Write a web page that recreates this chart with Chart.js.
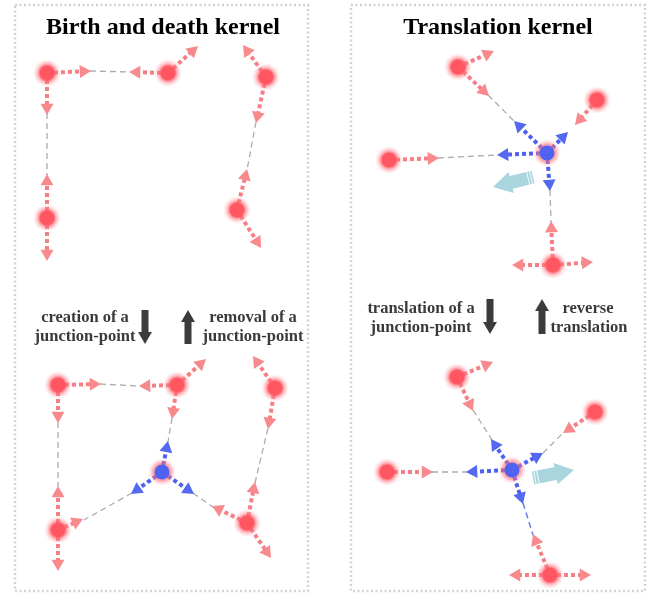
<!DOCTYPE html>
<html>
<head>
<meta charset="utf-8">
<script src="https://cdn.jsdelivr.net/npm/chart.js@4.4.1/dist/chart.umd.min.js"></script>
<style>
  html, body { margin: 0; padding: 0; background: #fff; }
  #wrap { width: 662px; height: 594px; position: relative; }
</style>
</head>
<body>
<div id="wrap"><canvas id="kernelChart"></canvas></div>
<script>
// Diagram space: x 0..662, y 0..594 (y grows downward)
const panels = [[15, 5, 308, 591], [351, 5, 645, 591]];

// red end points / blue junction points
const redNodes = [
  [47, 73], [168, 73], [266, 77], [47, 218], [237, 210],
  [58, 385], [177, 385], [275, 388], [58, 530], [247, 523],
  [458, 67], [597, 100], [389, 160], [553, 265],
  [457, 377], [595, 412], [387, 472], [550, 575]
];
const junctions = [[162, 472], [547, 153], [512, 470]];

// arrows: [fromX, fromY, tipX, tipY]
const redArrows = [
  [47, 73, 91, 71], [168, 73, 129, 72], [168, 73, 198, 46], [47, 73, 47, 115],
  [47, 218, 47, 174], [47, 218, 47, 261], [266, 77, 243, 45], [266, 77, 256, 123],
  [237, 210, 247, 169], [237, 210, 261, 248],
  [58, 385, 101, 384], [177, 385, 139, 386], [177, 385, 206, 359], [177, 385, 172, 419],
  [58, 385, 58, 423], [58, 530, 58, 486], [58, 530, 58, 571], [58, 530, 83, 519],
  [275, 388, 253, 356], [275, 388, 268, 429], [247, 523, 255, 482], [247, 523, 212, 506],
  [247, 523, 271, 558],
  [458, 67, 494, 51], [458, 67, 489, 96], [597, 100, 575, 125], [389, 160, 439, 158],
  [553, 265, 551, 221], [553, 265, 512, 265], [553, 265, 593, 262],
  [457, 377, 493, 362], [457, 377, 473, 411], [595, 412, 563, 433], [387, 472, 433, 472],
  [550, 575, 533, 534], [550, 575, 509, 575], [550, 575, 591, 575]
];
const blueArrows = [
  [162, 472, 168, 441], [162, 472, 131, 494], [162, 472, 194, 494],
  [547, 153, 514, 121], [547, 153, 568, 132], [547, 153, 497, 155], [547, 153, 550, 191],
  [512, 470, 491, 439], [512, 470, 543, 453], [512, 470, 466, 472], [512, 470, 523, 504]
];
const grayLinks = [
  [90, 71, 130, 72], [47, 113, 47, 175], [256, 122, 247, 170],
  [100, 384, 140, 386], [172, 418, 168, 442], [58, 422, 58, 487], [132, 493, 84, 520],
  [193, 493, 213, 507], [255, 483, 268, 428],
  [488, 95, 515, 122], [438, 158, 498, 155], [550, 190, 551, 222],
  [473, 410, 492, 440], [543, 453, 563, 433], [432, 472, 467, 472]
];
const blueLinks = [[523, 503, 533, 535]];
const darkArrows = [[145, 310, 145, 344], [188, 344, 188, 310], [490, 299, 490, 334], [542, 334, 542, 299]];
const moveArrows = [[533, 177, 493, 187], [533, 478, 574, 470]];

const titles = [
  ['Birth and death kernel', 163, 34],
  ['Translation kernel', 498, 34]
];
const captions = [
  ['creation of a', 85, 322], ['junction-point', 85, 341],
  ['removal of a', 253, 322], ['junction-point', 253, 341],
  ['translation of a', 421, 313], ['junction-point', 421, 332],
  ['reverse', 588, 313], ['translation', 589, 332]
];

// helpers
function unit(a) {
  const dx = a[2] - a[0], dy = a[3] - a[1];
  const L = Math.hypot(dx, dy);
  return [dx / L, dy / L];
}
function headOf(a, r) {
  const [ux, uy] = unit(a);
  return { x: a[2] - ux * r, y: a[3] - uy * r, rot: Math.atan2(ux, -uy) * 180 / Math.PI };
}
function lineSet(pts, color, width, dash, order) {
  return {
    data: pts.map(p => ({ x: p[0], y: p[1] })),
    showLine: true, borderColor: color, borderWidth: width, borderDash: dash,
    borderCapStyle: 'butt', pointRadius: 0, fill: false, tension: 0, order: order
  };
}
function arrowSets(list, shaftColor, headColor, width, dash, r, order) {
  const sets = list.map(a => {
    const [ux, uy] = unit(a);
    return lineSet([[a[0], a[1]], [a[2] - ux * r * 1.35, a[3] - uy * r * 1.35]], shaftColor, width, dash, order + 1);
  });
  sets.push({
    data: list.map(a => headOf(a, r)),
    pointStyle: 'triangle', pointRadius: r, borderWidth: 0,
    pointRotation: c => (c.raw ? c.raw.rot : 0),
    backgroundColor: headColor, showLine: false, order: order
  });
  return sets;
}
// thin white cuts across the tail of the fat move arrows
function tailCuts(list, half, order) {
  const sets = [];
  list.forEach(a => {
    const [ux, uy] = unit(a);
    [2, 5].forEach(d => {
      const cx = a[0] + ux * d, cy = a[1] + uy * d;
      sets.push(lineSet([[cx - uy * half, cy + ux * half], [cx + uy * half, cy - ux * half]], 'rgba(255,255,255,0.9)', 1, [], order));
    });
  });
  return sets;
}
function glow(c, r, inner) {
  if (!c.raw) return inner;
  const px = c.chart.scales.x.getPixelForValue(c.raw.x);
  const py = c.chart.scales.y.getPixelForValue(c.raw.y);
  if (!Number.isFinite(px) || !Number.isFinite(py)) return inner;
  const g = c.chart.ctx.createRadialGradient(px, py, 0, px, py, r);
  g.addColorStop(0, inner);
  g.addColorStop(0.48, inner);
  g.addColorStop(0.62, 'rgba(255,105,115,0.6)');
  g.addColorStop(0.82, 'rgba(255,140,150,0.25)');
  g.addColorStop(1, 'rgba(255,160,170,0)');
  return g;
}

const datasets = [];
panels.forEach(p => datasets.push(lineSet([[p[0], p[1]], [p[2], p[1]], [p[2], p[3]], [p[0], p[3]], [p[0], p[1]]], '#d2d2d2', 2.5, [2, 2.5], 20)));
grayLinks.forEach(l => datasets.push(lineSet([[l[0], l[1]], [l[2], l[3]]], '#acacac', 1.3, [6, 4], 15)));
blueLinks.forEach(l => datasets.push(lineSet([[l[0], l[1]], [l[2], l[3]]], '#6a7cf0', 1.5, [6, 4], 15)));
datasets.push(...arrowSets(darkArrows, '#3b3b3b', '#3b3b3b', 7, [], 8, 12));
datasets.push(...tailCuts(moveArrows, 7, 11));
datasets.push(...arrowSets(moveArrows, '#a9d6de', '#a9d6de', 13, [], 12.5, 12));
datasets.push(...arrowSets(redArrows, 'rgba(245,112,120,0.9)', '#f88a8e', 4, [4, 3], 7.5, 8));
datasets.push(...arrowSets(blueArrows, '#4d61ee', '#5468f0', 4, [4, 3], 7.5, 8));
datasets.push({
  data: redNodes.map(p => ({ x: p[0], y: p[1] })),
  pointRadius: 14, borderWidth: 0, showLine: false,
  backgroundColor: c => glow(c, 14, '#ff5661'), order: 2
});
datasets.push({
  data: junctions.map(p => ({ x: p[0], y: p[1] })),
  pointRadius: 14, borderWidth: 0, showLine: false,
  backgroundColor: c => glow(c, 14, 'rgba(255,120,128,0.7)'), order: 1
});
datasets.push({
  data: junctions.map(p => ({ x: p[0], y: p[1] })),
  pointRadius: 7.5, borderWidth: 0, showLine: false,
  backgroundColor: '#4f62f0', order: 0
});

// text drawn in diagram coordinates
const textPlugin = {
  id: 'textPlugin',
  afterDatasetsDraw(chart) {
    const { ctx, scales: { x, y } } = chart;
    ctx.save();
    ctx.textAlign = 'center';
    ctx.textBaseline = 'alphabetic';
    ctx.fillStyle = '#000';
    ctx.font = 'bold 24px "Liberation Serif", "Times New Roman", serif';
    titles.forEach(t => ctx.fillText(t[0], x.getPixelForValue(t[1]), y.getPixelForValue(t[2])));
    ctx.fillStyle = '#3a3a3a';
    ctx.font = 'bold 16.5px "Liberation Serif", "Times New Roman", serif';
    captions.forEach(t => ctx.fillText(t[0], x.getPixelForValue(t[1]), y.getPixelForValue(t[2])));
    ctx.restore();
  }
};

new Chart(document.getElementById('kernelChart').getContext('2d'), {
  type: 'scatter',
  data: { datasets: datasets },
  options: {
    responsive: true,
    maintainAspectRatio: false,
    animation: false,
    devicePixelRatio: 1,
    events: [],
    layout: { padding: 0, autoPadding: false },
    plugins: { legend: { display: false }, tooltip: { enabled: false } },
    scales: {
      x: { type: 'linear', min: 0, max: 662, display: false },
      y: { type: 'linear', min: 0, max: 594, reverse: true, display: false }
    }
  },
  plugins: [textPlugin]
});
</script>
</body>
</html>
